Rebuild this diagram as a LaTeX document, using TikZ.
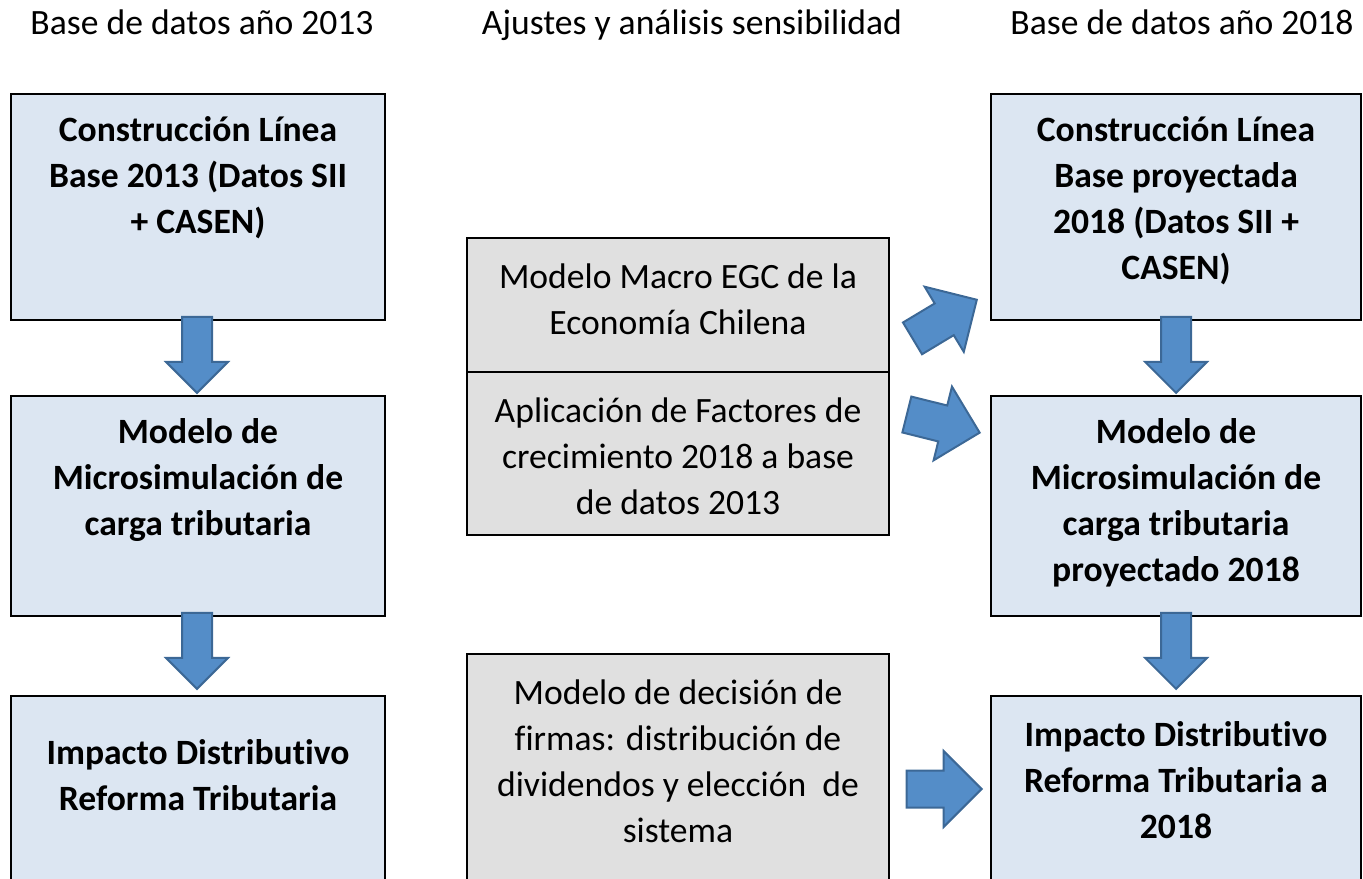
\documentclass[tikz,border=0pt]{standalone}
\usepackage{fontspec}
\setmainfont{Carlito}[Ligatures=NoCommon]
\usetikzlibrary{shapes.arrows, positioning, calc}
\definecolor{boxblue}{RGB}{220,230,242}
\definecolor{boxgray}{RGB}{224,224,224}
\definecolor{arrowfill}{RGB}{84,141,200}
\definecolor{arrowline}{RGB}{60,104,150}

\begin{document}
\begin{tikzpicture}[x=0.5pt, y=-0.5pt,
        mainbox/.style={draw, line width=0.75pt, fill=boxblue, minimum width=187pt, inner sep=0pt},
        sidebox/.style={draw, line width=0.75pt, fill=boxgray, minimum width=211pt, inner sep=0pt},
        boxtext/.style={align=center, font=\bfseries\fontsize{17.8}{23}\selectfont},
        sidetext/.style={align=center, font=\fontsize{17.8}{23}\selectfont},
        header/.style={anchor=base, font=\fontsize{17.8}{23}\selectfont},
        bigarrow/.style={single arrow, draw=arrowline, fill=arrowfill, line width=1pt,
            single arrow head indent=0pt, anchor=tip},
        downarrow/.style={bigarrow, shape border rotate=270, minimum width=30pt,
            minimum height=38pt, inner sep=7pt, single arrow head extend=8pt},
        sidearrow/.style={bigarrow, minimum width=37pt, minimum height=37.5pt,
            inner sep=8.75pt, single arrow head extend=9.75pt}
    ]
        \useasboundingbox (0,0) rectangle (1363,878);
        \clip (0,0) rectangle (1363,878);

        % Headers
        \node[header] (h13) at (202,34) {Base de datos año 2013};
        \node[header] (hadj) at (692,34) {Ajustes y análisis sensibilidad};
        \node[header] (h18) at (1182,34) {Base de datos año 2018};

        % Left column (2013)
        \node[mainbox, minimum height=113pt] (l1) at (198,207) {};
        \node[mainbox, minimum height=110pt] (l2) at (198,506) {};
        \node[mainbox, minimum height=102pt] (l3) at (198,798) {};
        \node[boxtext] (l1t) at (198,178) {Construcción Línea\\Base 2013 (Datos SII\\+ CASEN)};
        \node[boxtext] (l2t) at (198,480) {Modelo de\\Microsimulación de\\carga tributaria};
        \node[boxtext] (l3t) at (198,775) {Impacto Distributivo\\Reforma Tributaria};

        % Middle column
        \node[sidebox, minimum height=67pt] (macro) at (678,305) {};
        \node[sidebox, minimum height=81.5pt] (aplic) at (678,453.5) {};
        \node[sidebox, minimum height=123pt] (firmas) at (678,777) {};
        \node[sidetext] (macrot) at (678,299) {Modelo Macro EGC de la\\Economía Chilena};
        \node[sidetext] (aplict) at (678,456) {Aplicación de Factores de\\crecimiento 2018 a base\\de datos 2013};
        \node[sidetext] (firmast) at (678,761) {Modelo de decisión de\\firmas: distribución de\\dividendos y elección\ \ de\\sistema};

        % Right column (2018)
        \node[mainbox, minimum width=185pt, minimum height=113pt] (r1) at (1176,207) {};
        \node[mainbox, minimum width=185pt, minimum height=110pt] (r2) at (1176,506) {};
        \node[mainbox, minimum width=185pt, minimum height=102pt] (r3) at (1176,798) {};
        \node[boxtext] (r1t) at (1176,201) {Construcción Línea\\Base proyectada\\2018 (Datos SII +\\CASEN)};
        \node[boxtext] (r2t) at (1176,503) {Modelo de\\Microsimulación de\\carga tributaria\\proyectado 2018};
        \node[boxtext] (r3t) at (1176,780) {Impacto Distributivo\\Reforma Tributaria a\\2018};

        % Arrows
        \node[downarrow] (a12) at ($(l2.north)+(-1,-1)$) {};
        \node[downarrow] (a23) at ($(l3.north)+(-1,-5)$) {};
        \node[downarrow] (b12) at ($(r2.north)+(0,-1)$) {};
        \node[downarrow] (b23) at ($(r3.north)+(0,-5)$) {};
        \node[sidearrow, rotate=31] (macroarr) at (978,299) {};
        \node[sidearrow, rotate=-14] (aplicarr) at (981,433) {};
        \node[sidearrow] (firmasarr) at (983,789) {};
    \end{tikzpicture}
\end{document}
